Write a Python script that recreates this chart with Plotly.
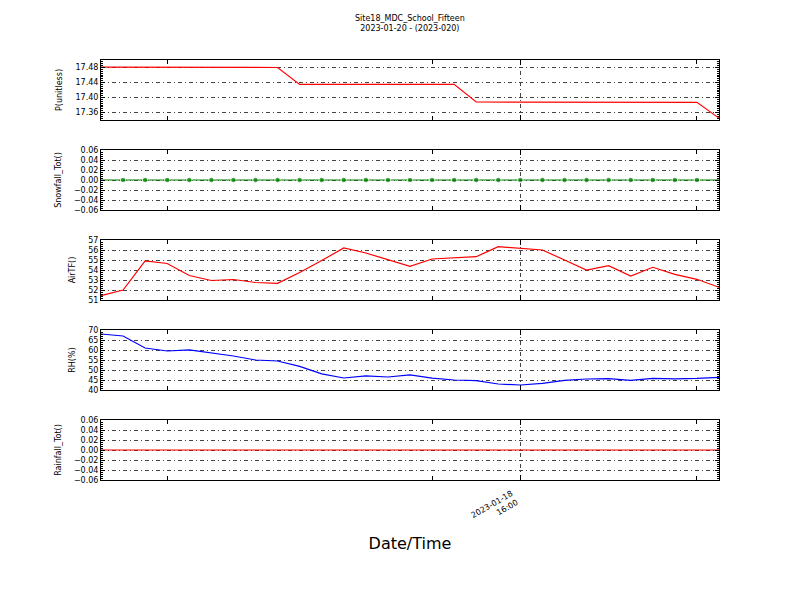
import plotly.graph_objects as go
from plotly.subplots import make_subplots

times = [
    "2023-01-17 21:00", "2023-01-17 22:00", "2023-01-17 23:00",
    "2023-01-18 00:00", "2023-01-18 01:00", "2023-01-18 02:00", "2023-01-18 03:00",
    "2023-01-18 04:00", "2023-01-18 05:00", "2023-01-18 06:00", "2023-01-18 07:00",
    "2023-01-18 08:00", "2023-01-18 09:00", "2023-01-18 10:00", "2023-01-18 11:00",
    "2023-01-18 12:00", "2023-01-18 13:00", "2023-01-18 14:00", "2023-01-18 15:00",
    "2023-01-18 16:00", "2023-01-18 17:00", "2023-01-18 18:00", "2023-01-18 19:00",
    "2023-01-18 20:00", "2023-01-18 21:00", "2023-01-18 22:00", "2023-01-18 23:00",
    "2023-01-19 00:00", "2023-01-19 01:00",
]

pressure = [17.481, 17.481, 17.481, 17.481, 17.480, 17.480, 17.480, 17.480, 17.480,
            17.435, 17.435, 17.434, 17.435, 17.435, 17.434, 17.435, 17.435,
            17.388, 17.388, 17.387, 17.387, 17.387, 17.387, 17.388, 17.388,
            17.387, 17.387, 17.387, 17.345]

snowfall = [0.0, 0.0, 0.0, 0.0, 0.0, 0.0, 0.0, 0.0, 0.0, 0.0, 0.0, 0.0, 0.0, 0.0, 0.0,
            0.0, 0.0, 0.0, 0.0, 0.0, 0.0, 0.0, 0.0, 0.0, 0.0, 0.0, 0.0, 0.0, 0.0]

air_temp = [51.43, 52.0, 54.9, 54.65, 53.45, 52.95, 53.05, 52.75, 52.67, 53.75,
            54.95, 56.2, 55.7, 55.0, 54.37, 55.1, 55.2, 55.33, 56.33, 56.17,
            56.0, 55.0, 54.0, 54.43, 53.4, 54.27, 53.57, 53.07, 52.27]

rel_hum = [68.0, 67.0, 61.0, 59.5, 60.1, 58.7, 57.0, 55.0, 54.5, 51.8,
           48.1, 46.0, 47.1, 46.5, 47.6, 45.9, 45.0, 44.7, 43.0, 42.5,
           43.3, 44.8, 45.5, 45.7, 44.8, 45.8, 45.6, 45.8, 46.3]

rainfall = [0.0, 0.0, 0.0, 0.0, 0.0, 0.0, 0.0, 0.0, 0.0, 0.0, 0.0, 0.0, 0.0, 0.0, 0.0,
            0.0, 0.0, 0.0, 0.0, 0.0, 0.0, 0.0, 0.0, 0.0, 0.0, 0.0, 0.0, 0.0, 0.0]

y_titles = ["P(unitless)", "Snowfall_Tot()", "AirTF()", "RH(%)", "Rainfall_Tot()"]
y_ranges = [[17.34, 17.50], [-0.06, 0.06], [51, 57], [40, 70], [-0.06, 0.06]]
y_ticks = [
    [17.36, 17.40, 17.44, 17.48],
    [-0.06, -0.04, -0.02, 0.0, 0.02, 0.04, 0.06],
    [51, 52, 53, 54, 55, 56, 57],
    [40, 45, 50, 55, 60, 65, 70],
    [-0.06, -0.04, -0.02, 0.0, 0.02, 0.04, 0.06],
]
y_fmt = [".2f", ".2f", "d", "d", ".2f"]
y_minor = [0.005, 0.004, 0.2, 1, 0.004]

x_major = ["2023-01-18 16:00"]
x_major_text = ["2023-01-18<br>16:00"]
x_minor = ["2023-01-18 00:00", "2023-01-18 12:00", "2023-01-19 00:00"]

title_text = "Site18_MDC_School_Fifteen<br>2023-01-20 - (2023-020)"

FONT = "DejaVu Sans"
GRID_DASH = "4px,3px,1px,3px"

fig = make_subplots(rows=5, cols=1, shared_xaxes=True, vertical_spacing=30 / 420)

n = len(times)
fig.add_trace(go.Scatter(x=times, y=pressure, mode="lines",
                         line=dict(color="#ff0000", width=1.2)), row=1, col=1)
fig.add_trace(go.Scatter(x=times, y=snowfall, mode="lines+markers",
                         line=dict(color="#008000", width=1.2),
                         marker=dict(color="#008000", size=[0] + [5.5] * (n - 2) + [0])),
              row=2, col=1)
fig.add_trace(go.Scatter(x=times, y=air_temp, mode="lines",
                         line=dict(color="#ff0000", width=1.2)), row=3, col=1)
fig.add_trace(go.Scatter(x=times, y=rel_hum, mode="lines",
                         line=dict(color="#0000ff", width=1.2)), row=4, col=1)
fig.add_trace(go.Scatter(x=times, y=rainfall, mode="lines",
                         line=dict(color="#ff0000", width=1.2)), row=5, col=1)

for i in range(5):
    r = i + 1
    fig.update_yaxes(
        row=r, col=1,
        range=y_ranges[i], tickvals=y_ticks[i], tickformat=y_fmt[i],
        showline=True, linecolor="black", linewidth=1, mirror="allticks",
        ticks="inside", ticklen=4, tickcolor="black",
        showgrid=True, gridcolor="#444444", gridwidth=0.8, griddash=GRID_DASH,
        zeroline=False,
        tickfont=dict(family=FONT, size=8, color="black"),
        title=dict(text=y_titles[i], font=dict(family=FONT, size=8, color="black"), standoff=11),
        minor=dict(dtick=y_minor[i], ticks="inside", ticklen=2, tickcolor="black",
                   showgrid=False),
    )
    fig.update_xaxes(
        row=r, col=1,
        range=[times[0], times[-1]],
        tickvals=x_major, ticktext=x_major_text, tickangle=-30,
        showline=True, linecolor="black", linewidth=1, mirror="allticks",
        ticks="inside", ticklen=5, tickcolor="black",
        showgrid=True, gridcolor="#444444", gridwidth=0.8, griddash=GRID_DASH,
        zeroline=False,
        tickfont=dict(family=FONT, size=8, color="black"),
        minor=dict(tickmode="array", tickvals=x_minor, ticks="inside", ticklen=4,
                   tickcolor="black", showgrid=False),
        showticklabels=(r == 5),
    )

fig.update_xaxes(row=5, col=1,
                 ticklabelshift=-9, ticklabelstandoff=5,
                 title=dict(text="Date/Time", font=dict(family=FONT, size=16, color="black"),
                            standoff=9))

fig.add_annotation(text=title_text, xref="paper", yref="paper", x=0.5, y=1,
                   yshift=25, xanchor="center", yanchor="bottom", showarrow=False,
                   font=dict(family=FONT, size=8, color="black"))

fig.update_layout(
    width=800, height=600,
    margin=dict(l=93, r=89, t=52, b=128),
    paper_bgcolor="white", plot_bgcolor="white",
    showlegend=False,
    font=dict(family=FONT, color="black"),
)

fig.write_html("out.html")
